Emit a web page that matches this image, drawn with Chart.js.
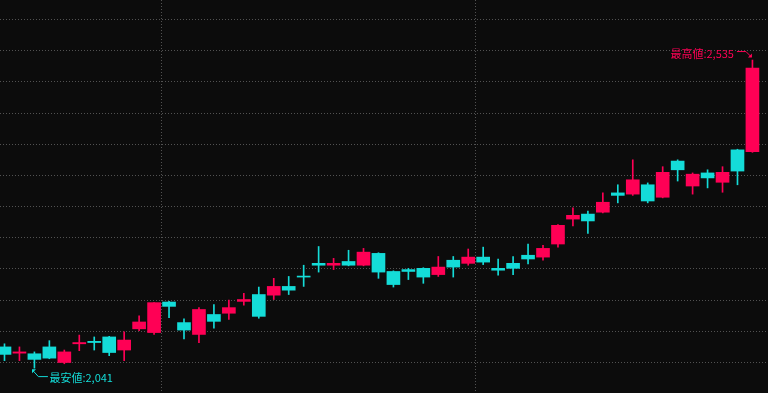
<!DOCTYPE html>
<html>
<head>
<meta charset="utf-8">
<script src="https://cdn.jsdelivr.net/npm/chart.js@4"></script>
<style>
    html, body { margin: 0; padding: 0; background: #0c0c0c; overflow: hidden; }
    canvas { display: block; }
</style>
</head>
<body>
<canvas id="CandleChart" width="768" height="393"></canvas>
<script>
// 四本値 (左から古い順)
var OpenSet  = [2075, 2065, 2064, 2075, 2050, 2080, 2084, 2091, 2070, 2104, 2098, 2147, 2114, 2095, 2127, 2129, 2148,
                2159, 2158, 2172, 2188, 2209, 2206, 2212, 2206, 2225, 2196, 2199, 2201, 2191, 2214, 2209, 2219, 2201,
                2209, 2222, 2219, 2240, 2280, 2288, 2291, 2322, 2320, 2335, 2315, 2373, 2333, 2354, 2339, 2391, 2388];
var HighSet  = [2080, 2075, 2067, 2085, 2070, 2094, 2091, 2092, 2099, 2125, 2146, 2148, 2120, 2138, 2143, 2150, 2161,
                2171, 2185, 2188, 2206, 2236, 2217, 2230, 2233, 2226, 2197, 2201, 2202, 2220, 2220, 2232, 2235, 2216,
                2220, 2240, 2238, 2271, 2298, 2293, 2322, 2335, 2375, 2338, 2364, 2375, 2354, 2359, 2364, 2392, 2535];
var LowSet   = [2053, 2053, 2041, 2056, 2048, 2069, 2070, 2061, 2053, 2101, 2095, 2122, 2088, 2082, 2105, 2119, 2142,
                2121, 2151, 2159, 2172, 2195, 2199, 2205, 2205, 2185, 2171, 2183, 2177, 2188, 2187, 2206, 2207, 2190,
                2191, 2208, 2214, 2235, 2269, 2257, 2290, 2306, 2318, 2306, 2314, 2341, 2320, 2330, 2323, 2335, 2387];
var CloseSet = [2063, 2067, 2055, 2057, 2067, 2082, 2082, 2066, 2086, 2115, 2146, 2140, 2102, 2135, 2116, 2138, 2151,
                2124, 2172, 2166, 2187, 2206, 2209, 2206, 2227, 2195, 2175, 2196, 2187, 2203, 2203, 2219, 2211, 2198,
                2201, 2216, 2233, 2270, 2286, 2277, 2307, 2318, 2343, 2309, 2355, 2359, 2352, 2346, 2355, 2357, 2522];
// 月の変わり目 (その月の最初の足の番号)
var MonthStartSet = [11, 32];
// 価格の目盛り
var PriceLevelSet = [2050, 2100, 2150, 2200, 2250, 2300, 2350, 2400, 2450, 2500, 2550, 2600];

var _UpColor = '#ff0055';
var _DownColor = '#14dcd8';
var _GridColor = '#525252';
var _Background = '#0c0c0c';
var _LabelFont = '11px "Noto Sans CJK JP", "Noto Sans", sans-serif';

function getCandleColors() {
    var _colors = [];
    for (var i = 0; i < OpenSet.length; i++) {
        _colors.push(CloseSet[i] >= OpenSet[i] ? _UpColor : _DownColor);
    };
    return _colors;
}

function getBodyData() {
    var _data = [];
    for (var i = 0; i < OpenSet.length; i++) {
        _data.push({ x: i, y: [OpenSet[i], CloseSet[i]] });
    };
    return _data;
}

function getWickData() {
    var _data = [];
    for (var i = 0; i < OpenSet.length; i++) {
        _data.push({ x: i, y: [LowSet[i], HighSet[i]] });
    };
    return _data;
}

function formatPrice(value) {
    return value.toLocaleString('en-US');
}

var BackgroundPlugin = {
    id: 'background',
    beforeDraw: function (chart) {
        var ctx = chart.ctx;
        ctx.save();
        ctx.fillStyle = _Background;
        ctx.fillRect(0, 0, chart.width, chart.height);
        ctx.restore();
    }
};

// 最高値・最安値の吹き出し
var ExtremaPlugin = {
    id: 'extrema',
    afterDatasetsDraw: function (chart) {
        var ctx = chart.ctx;
        var xs = chart.scales.x;
        var ys = chart.scales.y;
        var hi = HighSet.indexOf(Math.max.apply(null, HighSet));
        var lo = LowSet.indexOf(Math.min.apply(null, LowSet));

        ctx.save();
        ctx.font = _LabelFont;
        ctx.textBaseline = 'middle';
        ctx.lineWidth = 1;

        var hx = xs.getPixelForValue(hi);
        var hy = ys.getPixelForValue(HighSet[hi]);
        ctx.strokeStyle = _UpColor;
        ctx.fillStyle = _UpColor;
        ctx.beginPath();
        ctx.moveTo(hx - 15.5, hy - 8.5);
        ctx.lineTo(hx - 6.5, hy - 8.5);
        ctx.lineTo(hx - 1.5, hy - 3.5);
        ctx.stroke();
        ctx.beginPath();
        ctx.moveTo(hx - 0.5, hy - 2.5);
        ctx.lineTo(hx - 4.5, hy - 2.5);
        ctx.lineTo(hx - 0.5, hy - 6.5);
        ctx.closePath();
        ctx.fill();
        ctx.textAlign = 'right';
        ctx.fillText('最高値:' + formatPrice(HighSet[hi]), hx - 18.5, hy - 6);

        var lx = xs.getPixelForValue(lo);
        var ly = ys.getPixelForValue(LowSet[lo]);
        ctx.strokeStyle = _DownColor;
        ctx.fillStyle = _DownColor;
        ctx.beginPath();
        ctx.moveTo(lx + 13.5, ly + 8.5);
        ctx.lineTo(lx + 4, ly + 8.5);
        ctx.lineTo(lx - 1, ly + 3);
        ctx.stroke();
        ctx.beginPath();
        ctx.moveTo(lx - 2.4, ly + 1.2);
        ctx.lineTo(lx + 1.6, ly + 1.2);
        ctx.lineTo(lx - 2.4, ly + 5.2);
        ctx.closePath();
        ctx.fill();
        ctx.textAlign = 'left';
        ctx.fillText('最安値:' + formatPrice(LowSet[lo]), lx + 15, ly + 10);

        ctx.restore();
    }
};

function CreateCandleChart(ControlID) {
    var colors = getCandleColors();
    var ctx = document.getElementById(ControlID);
    return new Chart(ctx, {
        type: 'bar',
        data: {
            datasets: [{
                data: getBodyData(),
                backgroundColor: colors,
                borderWidth: 0,
                barThickness: 13,
                minBarLength: 1,
                grouped: false,
                order: 1
            }, {
                data: getWickData(),
                backgroundColor: colors,
                borderWidth: 0,
                barThickness: 1,
                grouped: false,
                order: 2
            }]
        },
        options: {
            responsive: false,
            animation: false,
            layout: { padding: 0 },
            plugins: { legend: { display: false }, tooltip: { enabled: false } },
            scales: {
                x: {
                    type: 'linear',
                    offset: false,
                    min: -0.3,
                    max: 51.04,
                    afterBuildTicks: function (scale) {
                        scale.ticks = MonthStartSet.map(function (i) { return { value: i - 0.5 }; });
                    },
                    afterFit: function (scale) { scale.height = 0; },
                    ticks: { display: false },
                    grid: { color: _GridColor, drawTicks: false, lineWidth: 1, offset: false },
                    border: { display: false, dash: [1, 2] }
                },
                y: {
                    min: 2001.1,
                    max: 2631.3,
                    afterBuildTicks: function (scale) {
                        scale.ticks = PriceLevelSet.map(function (v) { return { value: v }; });
                    },
                    afterFit: function (scale) { scale.width = 0; },
                    ticks: { display: false },
                    grid: { color: _GridColor, drawTicks: false, lineWidth: 1 },
                    border: { display: false, dash: [1, 2] }
                }
            }
        },
        plugins: [BackgroundPlugin, ExtremaPlugin]
    });
}

var CandleChart = CreateCandleChart('CandleChart');
</script>
</body>
</html>
